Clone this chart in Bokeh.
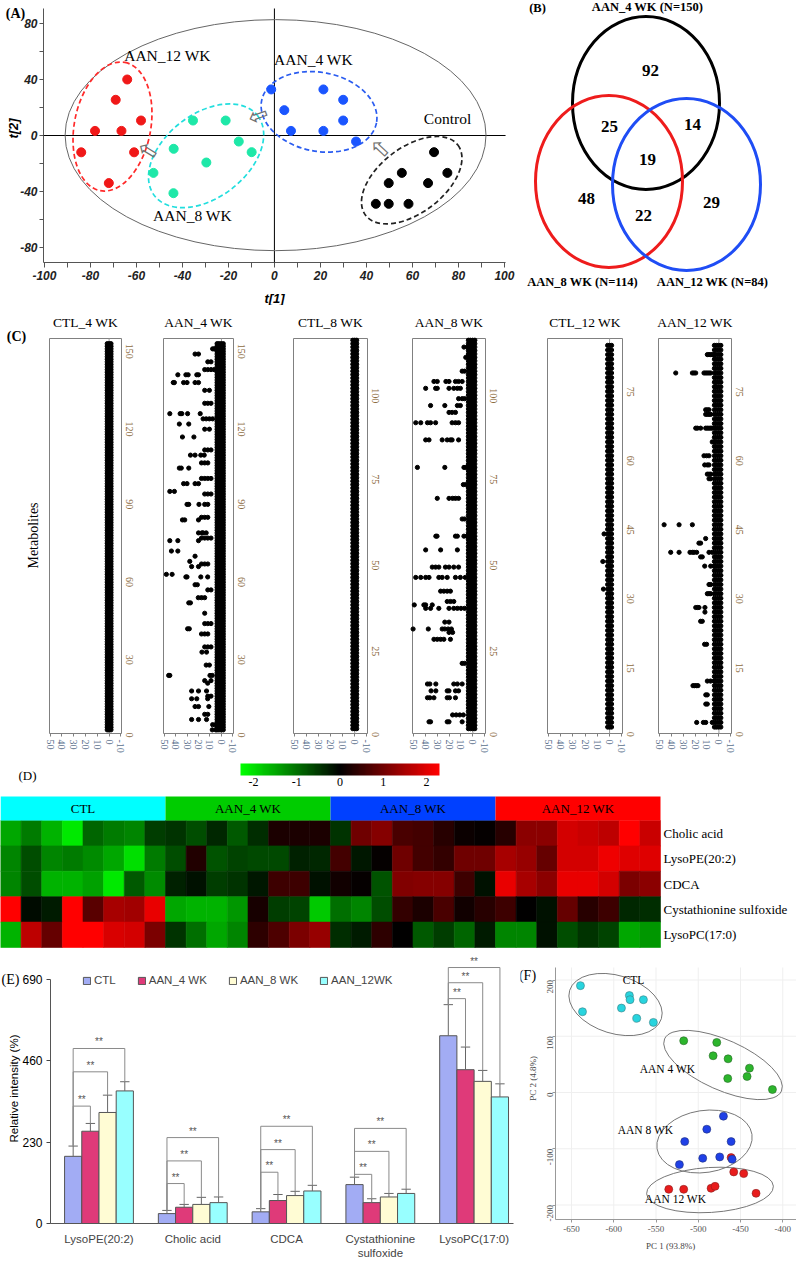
import math
import numpy as np
from bokeh.plotting import figure
from bokeh.layouts import row, column
from bokeh.models import (Range1d, FixedTicker, Label, LabelSet, LinearColorMapper, LinearAxis,
                          Legend, LegendItem, ColumnDataSource)
from bokeh.embed import file_html
from bokeh.resources import INLINE
from bokeh.core.properties import value

SERIF = "Liberation Serif"
SANS = "Liberation Sans"

# ======================= DATA =======================
# (A) OPLS-DA scores
a12_t1 = [-64, -69, -58, -78, -66.5, -84, -61, -72]
a12_t2 = [40, 25.5, 10.7, 3.3, 3.3, -12, -12, -34]
a8_t1 = [-35.4, -21.2, -15.5, -43.8, -9.9, -29.6, -52.6, -43.9]
a8_t2 = [10.7, 10.7, -4.3, -9.5, -11.9, -19.3, -26.7, -41.2]
a4_t1 = [-1.4, 21.3, 29.9, 4.3, 29.9, 7.2, 21.3, 35.5]
a4_t2 = [32.9, 32.9, 25.5, 18.1, 10.7, 3.3, 3.3, -4.3]
actl_t1 = [69.4, 55.4, 75.2, 49.7, 66.8, 44.1, 49.7, 58.3]
actl_t2 = [-11.9, -26.7, -26.7, -34, -34, -48.8, -48.8, -48.8]
a_group_names = ["AAN_12 WK", "AAN_8 WK", "AAN_4 WK", "Control"]
a_xticks = [-100, -80, -60, -40, -20, 0, 20, 40, 60, 80, 100]
a_yticks = [-80, -40, 0, 40, 80]

# (B) Venn counts
venn_sets = ["AAN_4 WK", "AAN_8 WK", "AAN_12 WK"]
venn_totals = [150, 114, 84]
venn_regions = ["4 only", "4&8", "4&12", "all", "8 only", "8&12", "12 only"]
venn_counts = [92, 25, 14, 19, 48, 22, 29]

# (C) metabolite t[1] plots
c_titles = ["CTL_4 WK", "AAN_4 WK", "CTL_8 WK", "AAN_8 WK", "CTL_12 WK", "AAN_12 WK"]
c_n_metab = [150, 150, 114, 114, 84, 84]
c_xticks = [50, 40, 30, 20, 10, 0, -10]
ctl_offsets = [-1.6, 0.0, 1.6]
aan_offsets = [-1.6, 0.3, 2.2, 3.8]
ctl12_extra = [(31, [5.0]), (37, [5.5]), (43, [4.5])]
aan4_out = [(1, [8, 5]), (3, [7.7, 5]), (5, [26, 20, 13]), (7, [14.6, 11.9]), (10, [23, 20, 11]),
            (13, [26, 21.5, 12]), (14, [11.9, 9.1]), (16, [26, 20, 13]), (19, [12]), (20, [14.6, 9.1]),
            (22, [46, 45, 10, 8]), (26, [13.3, 10.5]), (31, [17, 13]), (33, [14.6, 11.9, 9.1]),
            (38, [17.4, 14.6, 11.9]), (40, [29.5, 28]), (42, [14.6, 11.9, 9.1]), (46, [14.6]),
            (50, [28.5, 27]), (52, [20.2, 17.4, 14.6]), (55, [11.9, 9.1]), (57, [23, 21]),
            (60, [31, 30, 18, 12]), (61, [48, 43]), (64, [26, 20]), (65, [17.4, 14.6, 11.9]),
            (66, [27.6]), (68, [23]), (70, [43.6, 38]), (74, [45, 38, 20]), (75, [17.4, 14.6, 11.9, 9.1]),
            (77, [20, 17, 16, 13.3]), (82, [34, 32, 20]), (83, [17.4, 14.6, 11.9]),
            (88, [30, 28.5, 19.6, 14.6, 11.9]), (92, [14.6, 11.9, 9.1]), (93, [45, 41]),
            (96, [33, 30, 23, 20]), (98, [17.4, 14.6, 11.9, 9.1]), (102, [36.7, 35, 28.5]),
            (104, [17.4, 14.6, 11.9]), (107, [27, 23, 18, 15]), (109, [14.6, 11.9, 9.1]), (114, [34, 24]),
            (117, [14.6, 10.5]), (119, [36.7, 28.5]), (121, [16, 13.3, 10.5, 7.7]),
            (123, [45, 36, 34.5, 29.5, 18.5]), (127, [14.6, 11.9, 9.1]), (132, [14.6, 10.5]),
            (135, [42, 41, 33, 30, 23, 20]), (138, [38, 31, 29, 21.5, 20]), (140, [14.6, 11.9, 9.1, 6.4]),
            (143, [11.9, 9.1]), (146, [23, 20]), (148, [7.7, 6.4, 5])]
aan8_out = [(3, [36.7, 35.4, 21.5, 20, 9]), (5, [17, 14, 11, 8]), (10, [38, 36, 32.6, 21.5, 19.6, 14.6]),
            (12, [35, 31, 21.5, 20, 14.6, 12]), (14, [38, 36, 31, 16, 13, 9]), (20, [9, 7]),
            (27, [32.6, 29.8, 27, 24.3, 18.8]), (29, [20, 17]), (30, [50, 37.3, 25.7, 23.5, 20.7, 18]),
            (32, [23.5, 20]), (36, [39.5, 35.4, 28.5, 20, 16, 13, 10, 7]), (37, [49, 41, 39.5, 34]),
            (38, [21.5, 18.8, 16]), (41, [27, 24.3, 21.5, 18.8]),
            (45, [47.8, 43.6, 39.5, 36.7, 28.5, 25.7, 21.5, 14.6, 10.5, 6.4]),
            (48, [34, 31.2, 28.5, 23, 20, 16, 12]), (53, [39.5, 27, 13]), (57, [31, 30, 14.6, 13, 7.5, 5]),
            (62, [9, 7]), (68, [29.8, 20, 17, 14.6, 12]), (72, [8, 6]), (77, [46.4, 23.5, 7.5, 6]),
            (85, [39.5, 36.7, 25.7, 21.5, 18.8, 17.4, 12]), (90, [47.8, 43.6, 38, 35.4, 31.2, 17.4, 14.6, 12]),
            (93, [20, 17.4, 14.6]), (95, [35.4, 23.5, 13, 10.5]), (97, [12, 9, 7]),
            (100, [39.5, 31.2, 29.8, 20, 16, 13, 10.5]), (102, [32.6, 29.8, 22.6, 20, 14.6, 12, 9]),
            (105, [9, 7]), (109, [6, 3.6]), (112, [7.5, 4.7])]
aan12_out = [(2, [18.6, 13, 11, 5.6]), (6, [11, 9.7]), (8, [11, 9.7]), (10, [21.7, 20.3, 18.9, 17.5]),
             (11, [9.7, 7, 4]), (19, [12, 10.3]), (24, [15.3, 13.9]), (26, [11.7]),
             (27, [19.4, 18, 16.7, 11.7]), (30, [9.7, 8.3, 6.9]), (32, [8.3, 6.9]), (36, [11.9, 6.9, 4.2]),
             (38, [15.3, 13.9]), (39, [40.3, 33.3, 24.2, 22.2, 20.8, 18.6, 8.3, 5.6]), (41, [16.7, 15.3]),
             (42, [11.1]), (45, [45.8, 33.3, 22.2]), (55, [8.3, 6.9]), (56, [9.7, 8.3, 6.9]),
             (58, [11.9, 9.7, 8.3]), (60, [12.5, 10.3, 8.3]), (63, [5.6, 4.2]),
             (66, [19.4, 18, 15.3, 11.1, 9.7, 8.3, 6.9, 5.6]), (69, [11.1, 9.7, 8.3, 6.9]),
             (70, [11.1, 9.7, 8.3]), (75, [2.8]),
             (78, [36.1, 22.2, 20.8, 19.4, 12.5, 11.1, 9.7, 8.3, 6.9]), (82, [9.7, 8.3, 6.9, 5.6, 4.2])]

# (D) heatmap (z-scores)
hm_rows = ["Cholic acid", "LysoPE(20:2)", "CDCA", "Cystathionine sulfoxide", "LysoPC(17:0)"]
hm_groups = ["CTL", "AAN_4 WK", "AAN_8 WK", "AAN_12 WK"]
heat_cholic = [-1.5, -1.1, -1.6, -2.1, -0.9, -1.1, -1.2, -0.55, -0.45, -0.7, -0.35, -0.8, -0.4, 0.25, 0.25, 0.25,
               -0.45, 1.0, 1.2, 0.65, 0.6, 0.35, 0.1, 0.05, 0.35, 1.25, 1.25, 1.9, 1.8, 1.7, 2.3, 1.8]
heat_lysope = [-1.2, -0.7, -1.2, -1.1, -1.25, -1.5, -2.0, -1.1, -0.7, 0.3, -0.75, -0.6, -0.65, -0.65, -0.3, -0.35,
               0.6, -0.2, 0.05, 1.0, 0.6, 0.45, 1.0, 1.0, 1.5, 1.35, 0.9, 1.9, 1.9, 2.15, 2.0, 2.0]
heat_cdca = [-1.2, -0.7, -1.6, -1.6, -1.45, -2.1, -0.8, -1.25, -0.3, -0.15, -0.55, -0.45, -0.2, 0.55, 0.55, -0.15,
             0.15, 0.05, -0.75, 1.15, 1.2, 1.2, 0.55, -0.15, 2.1, 1.5, 1.25, 2.1, 2.1, 1.9, 1.1, 1.25]
heat_cyst = [2.3, -0.1, -0.25, 2.3, 0.8, 1.5, 1.45, 2.1, -1.5, -1.6, -1.6, -1.35, 0.2, -0.55, -0.6, -1.8,
             -1.0, -1.2, -0.7, 0.45, 0.25, 0.65, 0.15, 0.35, 0.55, 0.0, -0.15, 0.9, 0.35, 0.55, -0.35, -0.4]
heat_lysopc = [-1.6, 1.7, 0.9, 2.3, 2.3, 1.95, 1.9, 1.1, -0.45, -1.0, -1.5, -1.2, 0.4, 0.7, 1.1, 1.35,
               -0.4, -0.25, 0.4, 0.0, -0.8, -0.55, -0.9, -0.25, -1.2, -1.2, -0.15, -0.7, -0.45, -0.6, -1.5, -1.35]
cbar_ticks = [-2, -1, 0, 1, 2]

# (E) relative intensity
e_cats = ["LysoPE(20:2)", "Cholic acid", "CDCA", "Cystathionine sulfoxide", "LysoPC(17:0)"]
e_series = ["CTL", "AAN_4 WK", "AAN_8 WK", "AAN_12WK"]
e_ctl = [190, 28, 33, 110, 531]
e_aan4 = [261, 46, 65, 59, 435]
e_aan8 = [314, 54, 79, 75, 402]
e_aan12 = [375, 59, 92, 85, 358]
e_ctl_sd = [29, 9, 9, 21, 88]
e_aan4_sd = [22, 8, 17, 11, 64]
e_aan8_sd = [49, 20, 12, 10, 31]
e_aan12_sd = [26, 16, 16, 12, 37]
e_yticks = [0, 230, 460, 690]

# (F) PCA scores
f_ctl_pc1 = [-639.4, -637, -581.5, -580.7, -564.9, -590.9, -572.8, -553.1]
f_ctl_pc2 = [190, 143.6, 172.4, 165, 165, 150.1, 131.8, 124.6]
f_a4_pc1 = [-517.2, -478.1, -482.4, -464.7, -439.4, -442.2, -465.1, -412.2]
f_a4_pc2 = [92, 89, 65.3, 59.9, 43.3, 28.5, 24.9, 5.3]
f_a8_pc1 = [-470.2, -489.9, -516, -461.1, -494.7, -474.6, -459.9, -522.3]
f_a8_pc2 = [-42.1, -65.3, -87.2, -87.2, -116.9, -114.5, -118.7, -128.2]
f_a12_pc1 = [-461.1, -458, -446.2, -534.9, -517.2, -484.8, -480.1, -431.6]
f_a12_pc2 = [-115.7, -141.2, -144.2, -172.1, -172.1, -170.3, -166.8, -179.2]
f_group_names = ["CTL", "AAN 4 WK", "AAN 8 WK", "AAN 12 WK"]
f_xticks = [-650, -600, -550, -500, -450, -400]
f_yticks = [-200, -100, 0, 100, 200]

# ======================= HELPERS =======================
FR = {}


def mkfig(box, plot, xd, yd):
    """box: page rect of the figure; plot: page rect of the plotting box; xd/yd: data at its edges."""
    X0, Y0, X1, Y1 = box
    pl, pt, pr, pb = plot
    sx = (xd[1] - xd[0]) / (pr - pl)
    sy = (yd[1] - yd[0]) / (pb - pt)
    xr = Range1d(xd[0] + (X0 - pl) * sx, xd[0] + (X1 - pl) * sx)
    yr = Range1d(yd[0] - (Y1 - pb) * sy, yd[0] + (pb - Y0) * sy)
    p = figure(width=X1 - X0, height=Y1 - Y0, x_range=xr, y_range=yr,
               min_border_left=0, min_border_right=0, min_border_top=0, min_border_bottom=0,
               x_axis_location=None, y_axis_location=None,
               output_backend="svg", toolbar_location=None)
    p.grid.visible = False
    p.outline_line_color = None
    FR[id(p)] = (X0, Y1)
    return p


def lab(p, px, py, text, size=12, font=SERIF, style="normal", color="black",
        align="center", baseline="middle", angle=0.0):
    X0, Y1 = FR[id(p)]
    p.add_layout(Label(x=px - X0, y=Y1 - py, x_units="screen", y_units="screen",
                       text=text, text_font=font, text_font_size=f"{size}px",
                       text_font_style=style, text_color=color, text_align=align,
                       text_baseline=baseline, angle=angle))


def axis(p, side, loc, ticks, minor=(), font=SANS, size=12, color="black", style="normal",
         tick_color="#444", tick_out=4, standoff=3, orientation=None):
    ax = LinearAxis(fixed_location=loc, ticker=FixedTicker(ticks=list(ticks), minor_ticks=list(minor)))
    ax.axis_line_color = None
    ax.major_tick_line_color = tick_color
    ax.minor_tick_line_color = tick_color
    ax.major_tick_out = tick_out
    ax.minor_tick_out = tick_out
    ax.major_tick_in = 0
    ax.minor_tick_in = 0
    ax.major_label_standoff = standoff
    ax.major_label_text_font = font
    ax.major_label_text_font_size = f"{size}px"
    ax.major_label_text_font_style = style
    ax.major_label_text_color = color
    ax.major_label_overrides = {v: str(v) for v in ticks}
    if orientation is not None:
        ax.major_label_orientation = orientation
    p.add_layout(ax, side)
    return ax


# ======================= (A) =======================
pa = mkfig((0, 0, 520, 305), (43, 8, 500, 262), (-100.4, 98.3), (-90.7, 90.7))
axis(pa, "below", -90.7, a_xticks, [v + 10 for v in a_xticks[:-1]], font=SANS, size=12,
     color="#222", style="bold italic", tick_color="#555", tick_out=5, standoff=3)
axis(pa, "left", -100.4, a_yticks, [-60, -20, 20, 60], font=SANS, size=12,
     color="#222", style="bold italic", tick_color="#555", tick_out=4, standoff=2)
pa.segment(x0=[-100.4, -100.4, 0, -100.4], y0=[-90.7, -90.7, -90.7, 0],
           x1=[100.5, -100.4, 0, 100.5], y1=[-90.7, 90.7, 90.7, 0],
           line_color=["#555", "#555", "#000", "#000"], line_width=1)
pa.ellipse(x=[0.5], y=[0.25], width=[183], height=[165], fill_color=None, line_color="#666", line_width=1)
pa.ellipse(x=[-70.4, -29.7, 19.4, 59.7], y=[6.4, -14.5, 16.9, -31.9],
           width=[130.6, 130.6, 117, 116], height=[76.4, 83.6, 79, 65.5],
           angle=[1.38, 0.66, -0.19, 0.65], width_units="screen", height_units="screen",
           fill_color=None, line_color=["#ff2a2a", "#22dede", "#2a5cf0", "#222222"],
           line_dash="5 3", line_width=1.7)
pa.scatter(a12_t1, a12_t2, size=9, color="#f01818")
pa.scatter(a8_t1, a8_t2, size=9, color="#1ee8a8")
pa.scatter(a4_t1, a4_t2, size=9, color="#1a55ff")
pa.scatter(actl_t1, actl_t2, size=9, color="#000000")
pa.text(x=[46.1, -7.0, -54.8], y=[-9.3, 14.3, -10.7], text=["\u21e6"] * 3, angle=[-0.75, 0.35, -0.55],
        text_font=value("DejaVu Sans"), text_font_size="24px", text_color="#707070",
        text_align="center", text_baseline="middle")
for name, (x, y) in zip(a_group_names, [(167, 55), (192, 215), (313, 59), (447, 118)]):
    lab(pa, x, y, name, 15.5)
lab(pa, 15, 13, "(A)", 14, style="bold")
lab(pa, 13, 128, "t[2]", 13, font=SANS, style="bold italic", angle=math.pi / 2)
lab(pa, 274, 298, "t[1]", 13, font=SANS, style="bold italic")

# ======================= (B) =======================
pb = mkfig((520, 0, 796, 305), (520, 0, 796, 305), (520, 796), (305, 0))
pb.ellipse(x=[645.5, 608.5, 686], y=[102.5, 181, 184], width=[147, 147, 148], height=[173, 172, 172],
           fill_color=None, line_color=["#000000", "#ee1c1c", "#1f4df5"], line_width=3)
pb.text(x=[650, 609, 692, 647, 586, 643, 711], y=[70, 126, 124, 159, 198, 215, 202],
        text=[str(c) for c in venn_counts], text_font=value(SERIF), text_font_style="bold",
        text_font_size="17px", text_align="center", text_baseline="middle")
for (x, y), s, n in zip([(647, 6), (582, 281), (712, 281)], venn_sets, venn_totals):
    lab(pb, x, y, f"{s} (N={n})", 12.5, style="bold")
lab(pb, 537, 7, "(B)", 12.5, style="bold")

# ======================= (C) =======================
C_TOP, C_BOT = 338, 733
c_boxes = [(0, 145, 49, 121), (145, 270, 163, 233), (270, 395, 293, 367),
           (395, 520, 412, 485), (520, 645, 547, 622), (645, 796, 658, 731)]
c_yticks = [[0, 30, 60, 90, 120, 150]] * 2 + [[0, 25, 50, 75, 100]] * 2 + [[0, 15, 30, 45, 60, 75]] * 2
c_ytop = [152, 152, 114.5, 114.5, 85.5, 85.5]
c_extra = [[], aan4_out, [], aan8_out, ctl12_extra, aan12_out]
c_figs = []
for k in range(6):
    x0, x1, fl, fr = c_boxes[k]
    n = c_n_metab[k]
    offs = ctl_offsets if k % 2 == 0 else aan_offsets
    mx = [m for m in range(1, n + 1) for o in offs]
    tx = [o for m in range(1, n + 1) for o in offs]
    for m, vals in c_extra[k]:
        mx += [m] * len(vals)
        tx += list(vals)
    p = mkfig((x0, 305, x1, 760), (fl, C_TOP, fr, C_BOT), (50.5, -10.5), (-0.4, c_ytop[k]))
    p.quad(left=[50.5], right=[-10.5], bottom=[-0.4], top=[c_ytop[k]], fill_color=None,
           line_color="#808080", line_width=1)
    p.segment(x0=[0], y0=[-0.4], x1=[0], y1=[c_ytop[k]], line_color="#9a9a9a", line_width=1)
    p.scatter(tx, mx, size=4.2, color="black")
    axis(p, "below", -0.4, c_xticks, font=SERIF, size=10, color="#5a6f8c", tick_color="#808080",
         tick_out=3, standoff=3, orientation=-math.pi / 2)
    axis(p, "right", -10.5, c_yticks[k], font=SERIF, size=10, color="#8b6a40", tick_color="#808080",
         tick_out=0, standoff=8, orientation=-math.pi / 2)
    lab(p, (fl + fr) / 2, 322, c_titles[k], 13.5)
    c_figs.append(p)
lab(c_figs[0], 16, 336, "(C)", 14, style="bold")
lab(c_figs[0], 33, 535, "Metabolites", 14, angle=math.pi / 2)

# ======================= (D) =======================
pal = []
for i in range(256):
    t = i / 255 * 2 - 1
    if t < 0:
        pal.append("#%02x%02x%02x" % (0, int(round(-t * 255)), 0))
    else:
        pal.append("#%02x%02x%02x" % (int(round(t * 255)), 0, 0))
mapper = LinearColorMapper(palette=pal, low=-2.3, high=2.3)

pcb = mkfig((0, 760, 796, 792), (240, 763, 439, 775), (-2.3, 2.3), (0, 1))
pcb.image(image=[np.linspace(-2.3, 2.3, 230).reshape(1, -1)], x=-2.3, y=0, dw=4.6, dh=1, color_mapper=mapper)
cax = axis(pcb, "below", 0, cbar_ticks, font=SERIF, size=12, tick_color=None, tick_out=0, standoff=2)
lab(pcb, 27, 775, "(D)", 13)

ph = mkfig((0, 792, 796, 950), (0, 796, 660, 947), (-0.5, 31.5), (-0.5, 5.445))
hm_vals = [heat_cholic, heat_lysope, heat_cdca, heat_cyst, heat_lysopc]
hx, hy, hv = [], [], []
for r, vals in enumerate(hm_vals):
    for c, v in enumerate(vals):
        hx.append(c)
        hy.append(4 - r)
        hv.append(v)
hsrc = ColumnDataSource(dict(x=hx, y=hy, v=hv))
ph.rect(x="x", y="y", width=1, height=1, source=hsrc,
        fill_color={"field": "v", "transform": mapper},
        line_color={"field": "v", "transform": mapper}, line_width=0.6)
ph.rect(x=[3.5, 11.5, 19.5, 27.5], y=[4.972] * 4, width=8, height=0.945,
        fill_color=["#00ffff", "#00cc00", "#0040ff", "#ff0000"], line_color=None)
ph.text(x=[3.5, 11.5, 19.5, 27.5], y=[4.972] * 4, text=hm_groups, text_font=value(SERIF),
        text_font_size="13px", text_align="center", text_baseline="middle", text_color="black")
hax = axis(ph, "right", 31.5, [0, 1, 2, 3, 4], font=SERIF, size=13, tick_color=None, tick_out=0, standoff=3)
hax.major_label_overrides = {4 - r: name for r, name in enumerate(hm_rows)}

# ======================= (E) =======================
BW = 0.1835
pe = mkfig((0, 950, 520, 1262), (50, 955, 513, 1223), (-0.517, 4.42), (0, 758))
axis(pe, "left", -0.517, e_yticks, font=SANS, size=12, tick_color="#444", tick_out=4, standoff=4)
pe.segment(x0=[-0.517, -0.517], y0=[0, 0], x1=[4.42, -0.517], y1=[0, 690], line_color="#555", line_width=1)
e_vals = [e_ctl, e_aan4, e_aan8, e_aan12]
e_sds = [e_ctl_sd, e_aan4_sd, e_aan8_sd, e_aan12_sd]
e_colors = ["#a2acf4", "#df3a79", "#fffcd4", "#98ffff"]
offs = [(j - 1.5) * BW for j in range(4)]
e_rends = []
for j in range(4):
    xs = [i + offs[j] for i in range(5)]
    r = pe.vbar(x=xs, top=e_vals[j], width=BW, fill_color=e_colors[j], line_color="#555", line_width=1)
    e_rends.append(r)
    tops = [v + s for v, s in zip(e_vals[j], e_sds[j])]
    pe.segment(x0=xs, y0=e_vals[j], x1=xs, y1=tops, line_color="#666", line_width=1)
    pe.segment(x0=[x - 0.05 for x in xs], y0=tops, x1=[x + 0.05 for x in xs], y1=tops,
               line_color="#666", line_width=1)
e_bracket_levels = [[332, 429, 495], [113, 177, 243], [145, 209, 275], [139, 204, 269], [636, 681, 724]]
bx, by, sx, sy = [], [], [], []
for i in range(5):
    cx = i + offs[0]
    ctop = e_ctl[i] + e_ctl_sd[i]
    for j in (1, 2, 3):
        tx_ = i + offs[j]
        ttop = e_vals[j][i] + e_sds[j][i]
        lev = e_bracket_levels[i][j - 1]
        bx.append([cx, cx, tx_, tx_])
        by.append([ctop, lev, lev, ttop])
        sx.append((cx + tx_) / 2)
        sy.append(lev)
pe.multi_line(bx, by, line_color="#8a8a8a", line_width=1)
pe.add_layout(LabelSet(x="x", y="y", text="t", source=ColumnDataSource(dict(x=sx, y=sy, t=["**"] * len(sx))),
                       text_font=value(SANS), text_font_size="10px", text_color="#555555",
                       text_align="center", text_baseline="bottom", y_offset=1))
legend = Legend(items=[LegendItem(label=n, renderers=[r]) for n, r in zip(e_series, e_rends)],
                orientation="horizontal", location=(82, 276), border_line_color=None,
                background_fill_alpha=0, padding=0, margin=0, spacing=21, label_standoff=3,
                glyph_width=9, glyph_height=9, label_height=10, label_text_font=SANS,
                label_text_font_size="11.5px")
pe.add_layout(legend)
e_display = ["LysoPE(20:2)", "Cholic acid", "CDCA", "Cystathionine\nsulfoxide", "LysoPC(17:0)"]
for i, txt in enumerate(e_display):
    for li, line in enumerate(txt.split("\n")):
        pe.add_layout(Label(x=i, y=0, text=line, text_font=SANS, text_font_size="11.5px",
                            text_align="center", text_baseline="middle", y_offset=-15 - 14 * li))
lab(pe, 10, 979, "(E)", 14)
lab(pe, 13, 1088, "Relative intensity (%)", 11.5, font=SANS, angle=math.pi / 2)

# ======================= (F) =======================
FX0 = -650 - 16 / 0.845
FY0 = -127 / 0.5625
pf = mkfig((520, 950, 796, 1262), (555, 967, 796, 1219), (FX0, -650 + 225 / 0.845), (FY0, 125 / 0.5625))
FX1, FY1 = -650 + 225 / 0.845, 125 / 0.5625
pf.segment(x0=f_xticks, y0=[FY0] * len(f_xticks), x1=f_xticks, y1=[FY1] * len(f_xticks),
           line_color="#efefef", line_width=1)
pf.segment(x0=[FX0] * len(f_yticks), y0=f_yticks, x1=[FX1] * len(f_yticks), y1=f_yticks,
           line_color="#efefef", line_width=1)
pf.segment(x0=[FX0, FX0], y0=[FY0, FY0], x1=[FX1, FX0], y1=[FY0, FY1], line_color="#999", line_width=1)
axis(pf, "below", FY0, f_xticks, font=SERIF, size=9, color="#555", tick_color="#999", tick_out=3, standoff=3)
axis(pf, "left", FX0, f_yticks, font=SERIF, size=9, color="#555", tick_color="#999", tick_out=3, standoff=3,
     orientation=math.pi / 2)
pf.ellipse(x=[-597.9, -470.7, -492.6, -486.1], y=[156.4, 48.9, -87.1, -173.3],
           width=[96, 128, 96, 127], height=[58, 50, 62, 45], angle=[-0.3, -0.42, 0.15, 0.06],
           width_units="screen", height_units="screen", fill_color=None, line_color="#777", line_width=1)
pf.scatter(f_ctl_pc1, f_ctl_pc2, size=8, fill_color="#28d4de", line_color="#3a7f85", line_width=0.6)
pf.scatter(f_a4_pc1, f_a4_pc2, size=8, fill_color="#2cb52c", line_color="#2a6a2a", line_width=0.6)
pf.scatter(f_a12_pc1, f_a12_pc2, size=8, fill_color="#e81c1c", line_color="#8a2222", line_width=0.6)
pf.scatter(f_a8_pc1, f_a8_pc2, size=8, fill_color="#1f40e6", line_color="#22307a", line_width=0.6)
for name, (x, y) in zip(f_group_names, [(633, 979), (667, 1068), (645, 1129), (675, 1198)]):
    lab(pf, x, y, name, 11.5)
lab(pf, 527, 975, "(F)", 14)
lab(pf, 670, 1245, "PC 1 (93.8%)", 9, color="#444")
lab(pf, 532, 1078, "PC 2 (4.8%)", 9, color="#444", angle=math.pi / 2)

layout = column(row(pa, pb), row(*c_figs), pcb, ph, row(pe, pf))
open("out.html", "w").write(file_html(layout, INLINE))
